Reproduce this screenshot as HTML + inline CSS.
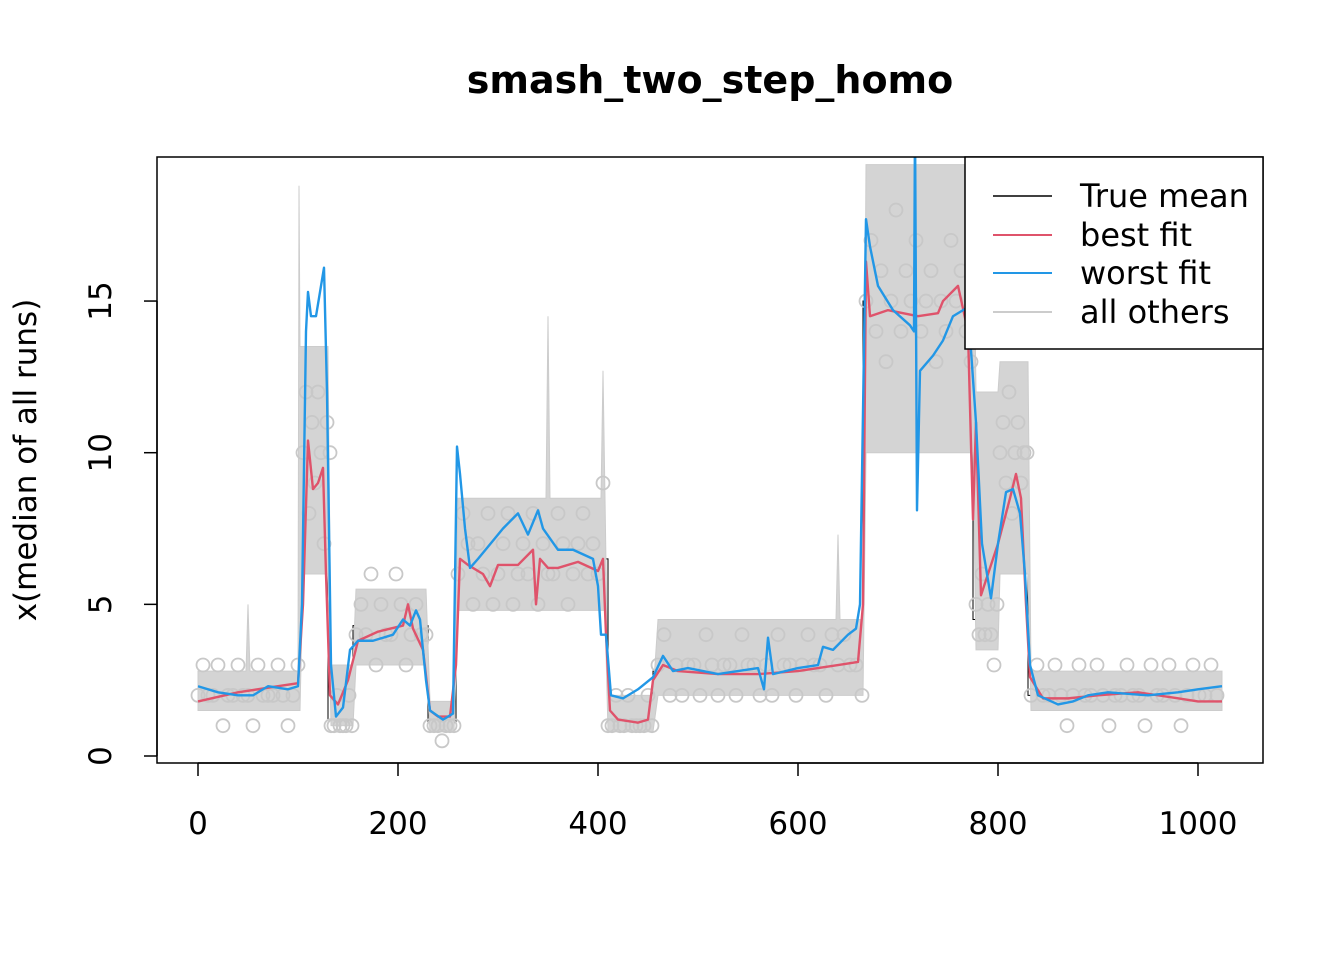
<!DOCTYPE html>
<html><head><meta charset="utf-8"><style>
html,body{margin:0;padding:0;background:#fff;}
svg{display:block;font-family:"DejaVu Sans","Liberation Sans",sans-serif;}
</style></head><body>
<svg id="chart" width="1344" height="960" viewBox="0 0 1344 960">
<rect width="1344" height="960" fill="#fff"/>
<text x="710" y="93" text-anchor="middle" font-size="38" font-weight="bold">smash_two_step_homo</text>
<text transform="translate(36,460) rotate(-90)" text-anchor="middle" font-size="31">x(median of all runs)</text>
<defs><clipPath id="clip"><rect x="157" y="157" width="1106" height="606"/></clipPath></defs>
<g id="plot" clip-path="url(#clip)"></g>
<g id="axes"></g>
<rect x="157" y="157" width="1106" height="606" fill="none" stroke="#000" stroke-width="1.5"/>
<g>
<rect x="965" y="157" width="298" height="192" fill="#fff" stroke="#000" stroke-width="1.5"/>
<line x1="993" y1="196" x2="1052" y2="196" stroke="#000" stroke-width="1.5"/>
<text x="1080" y="207" font-size="32">True mean</text>
<line x1="993" y1="235" x2="1052" y2="235" stroke="#df536b" stroke-width="2"/>
<text x="1080" y="246" font-size="32">best fit</text>
<line x1="993" y1="273" x2="1052" y2="273" stroke="#2297e6" stroke-width="2"/>
<text x="1080" y="284" font-size="32">worst fit</text>
<line x1="993" y1="312" x2="1052" y2="312" stroke="#cccccc" stroke-width="2"/>
<text x="1080" y="323" font-size="32">all others</text>
</g>
</svg>
<script>
const xTicks=[0,200,400,600,800,1000];
const yTicks=[0,5,10,15];
const meanX=[0,102,130,155,230,258,410,455,665,775,800,830,1024];
const meanY=[2.1,9.5,1.2,4.3,1.1,6.5,1.2,2.8,15,4.5,10,2];
const bestX=[0,40,80,100,105,110,115,120,125,128,132,140,150,160,180,205,210,215,225,232,240,252,258,262,270,285,292,300,320,335,338,342,350,360,380,400,405,408,412,420,440,450,455,465,480,520,560,600,640,660,665,668,672,690,720,740,745,760,770,775,778,783,790,800,812,818,823,828,832,845,870,900,940,980,1000,1024];
const bestY=[1.8,2.1,2.3,2.4,5,10.4,8.8,9,9.5,6,2,1.7,2.5,3.8,4.1,4.3,5,4.2,3.5,1.5,1.3,1.3,3,6.5,6.3,6,5.6,6.3,6.3,6.8,5,6.5,6.2,6.2,6.4,6.1,6.5,4,1.5,1.2,1.1,1.2,2.5,3,2.8,2.7,2.7,2.8,3,3.1,5,16.3,14.5,14.7,14.5,14.6,15,15.5,14,7.8,11,5.3,6,7,8.5,9.3,8.5,5,2.6,1.9,1.9,2,2.1,1.9,1.8,1.8];
const worstX=[0,20,40,55,70,90,100,104,108,110,113,118,123,126,129,133,138,145,152,160,175,195,205,212,218,222,228,232,245,255,259,262,267,272,280,290,305,320,330,340,345,360,375,395,400,403,408,413,425,440,455,465,475,490,520,560,566,570,575,600,620,625,635,650,658,662,668,672,680,695,712,716,717,719,722,735,745,755,770,778,784,793,800,808,815,822,827,832,840,860,875,890,910,950,980,1000,1024];
const worstY=[2.3,2.1,2,2,2.3,2.2,2.3,5,14,15.3,14.5,14.5,15.5,16.1,12,3,1.3,1.6,3.5,3.8,3.8,4,4.5,4.3,4.8,4.5,2.5,1.5,1.2,1.4,10.2,9.3,7.5,6.2,6.5,6.9,7.5,8,7.3,8.1,7.5,6.8,6.8,6.5,5.6,4,4,2,1.9,2.2,2.6,3.3,2.8,2.9,2.7,2.9,2.2,3.9,2.7,2.9,3,3.6,3.5,4,4.2,5,17.7,16.8,15.5,14.7,14.2,14,21,8.1,12.7,13.2,13.7,14.5,14.8,11,7,5.2,7,8.7,8.8,8,6,3,2,1.7,1.8,2,2.1,2,2.1,2.2,2.3];
const bandX=[0,48,50,52,100,101,102,105,130,133,155,158,228,232,256,260,348,350,352,403,405,407,410,455,460,638,640,642,665,668,775,778,800,802,830,833,1024];
const bandLo=[1.5,1.5,1.5,1.5,1.5,1.5,1.5,6,6,1,1,3,3,0.8,0.8,4.8,4.8,4.8,4.8,4.8,4.8,4.8,0.8,0.8,2,2,2,2,2,10,10,3.5,3.5,6,6,1.5,1.5];
const bandHi=[2.8,2.8,5,2.8,2.8,18.8,13.5,13.5,13.5,3,3,5.5,5.5,1.8,1.8,8.5,8.5,14.5,8.5,8.5,12.7,8.5,2,2,4.5,4.5,7.3,4.5,4.5,19.5,19.5,12,12,13,13,2.8,2.8];
const obsStart=[0,105,133,158,232,260,410,460,668,778,802,833];
const obsStep=[5,3,3,5,4,5,4,6,5,3,3,6];
const obsVals=[
[2,3,2,2,3,1,2,2,3,2,2,1,3,2,2,2,3,2,1,2,3],
[10,12,8,11,9,12,10,7,11,10],
[1,1,2,1,1,1,2,1],
[4,5,4,6,3,5,4,4,6,5,3,4,5,4,4],
[1,1,1,0.5,1,1,1],
[6,8,7,5,7,6,8,5,6,7,8,5,6,7,6,8,5,7,6,6,8,7,5,6,7,8,6,7,6,9],
[1,1,2,1,1,2,1,1,1,1,2,1],
[3,4,2,3,2,3,3,2,4,3,2,3,3,2,4,3,3,2,3,2,4,3,3,2,3,4,3,3,2,4,3,4,3,3,2],
[15,17,14,16,13,15,18,14,16,15,17,14,15,16,13,15,14,17,15,16,14,13],
[5,4,6,4,5,4,3,5],
[10,11,9,12,8,10,11,9,10,10],
[2,3,2,2,3,2,1,2,3,2,2,3,2,1,2,2,3,2,2,1,3,2,2,3,2,1,2,3,2,2,3,2]];
const NS='http://www.w3.org/2000/svg';
function sx(v){return 198+v*1.0;}
function sy(v){return 756-v*30.33;}
function mk(t,a,p){const e=document.createElementNS(NS,t);for(const k in a)e.setAttribute(k,a[k]);p.appendChild(e);return e;}
const plot=document.getElementById('plot'),axes=document.getElementById('axes');
let d='';
meanY.forEach((v,i)=>{d+=(i?'L':'M')+sx(meanX[i])+','+sy(v)+'L'+sx(meanX[i+1])+','+sy(v);});
const tm=mk('path',{d:d,fill:'none',stroke:'#000','stroke-width':'1'},plot);


let pts=bandX.map((x,i)=>sx(x)+','+sy(bandHi[i]));
for(let i=bandX.length-1;i>=0;i--)pts.push(sx(bandX[i])+','+sy(bandLo[i]));
const band=mk('polygon',{points:pts.join(' '),fill:'#d4d4d4',stroke:'#cccccc','stroke-width':'1'},plot);


obsStart.forEach((s,si)=>{obsVals[si].forEach((v,j)=>{
 const c=mk('circle',{cx:sx(s+j*obsStep[si]),cy:sy(v),r:6.5,fill:'none',stroke:'#c8c8c8','stroke-width':'1.8'},plot);
 
 
});});
function line(X,Y,col,name){
 const p=mk('polyline',{points:X.map((x,i)=>sx(x)+','+sy(Y[i])).join(' '),fill:'none',stroke:col,'stroke-width':'2.4','stroke-linejoin':'round'},plot);
 
 
}
line(bestX,bestY,'#df536b','best-fit-line');
line(worstX,worstY,'#2297e6','worst-fit-line');
const xa=mk('line',{x1:sx(xTicks[0]),y1:763,x2:sx(xTicks[xTicks.length-1]),y2:763,stroke:'#000','stroke-width':'1.5'},axes);


xTicks.forEach(t=>{
 const l=mk('line',{x1:sx(t),y1:763,x2:sx(t),y2:776,stroke:'#000','stroke-width':'1.5'},axes);
 
 
 const tx=mk('text',{x:sx(t),y:834,'text-anchor':'middle','font-size':'31'},axes);
 tx.textContent=t;
 
 
});
const ya=mk('line',{x1:157,y1:sy(yTicks[0]),x2:157,y2:sy(yTicks[yTicks.length-1]),stroke:'#000','stroke-width':'1.5'},axes);


yTicks.forEach(t=>{
 const l=mk('line',{x1:144,y1:sy(t),x2:157,y2:sy(t),stroke:'#000','stroke-width':'1.5'},axes);
 
 
 const tx=mk('text',{transform:'translate(111,'+sy(t)+') rotate(-90)','text-anchor':'middle','font-size':'31'},axes);
 tx.textContent=t;
 
 
});
</script>
</body></html>
